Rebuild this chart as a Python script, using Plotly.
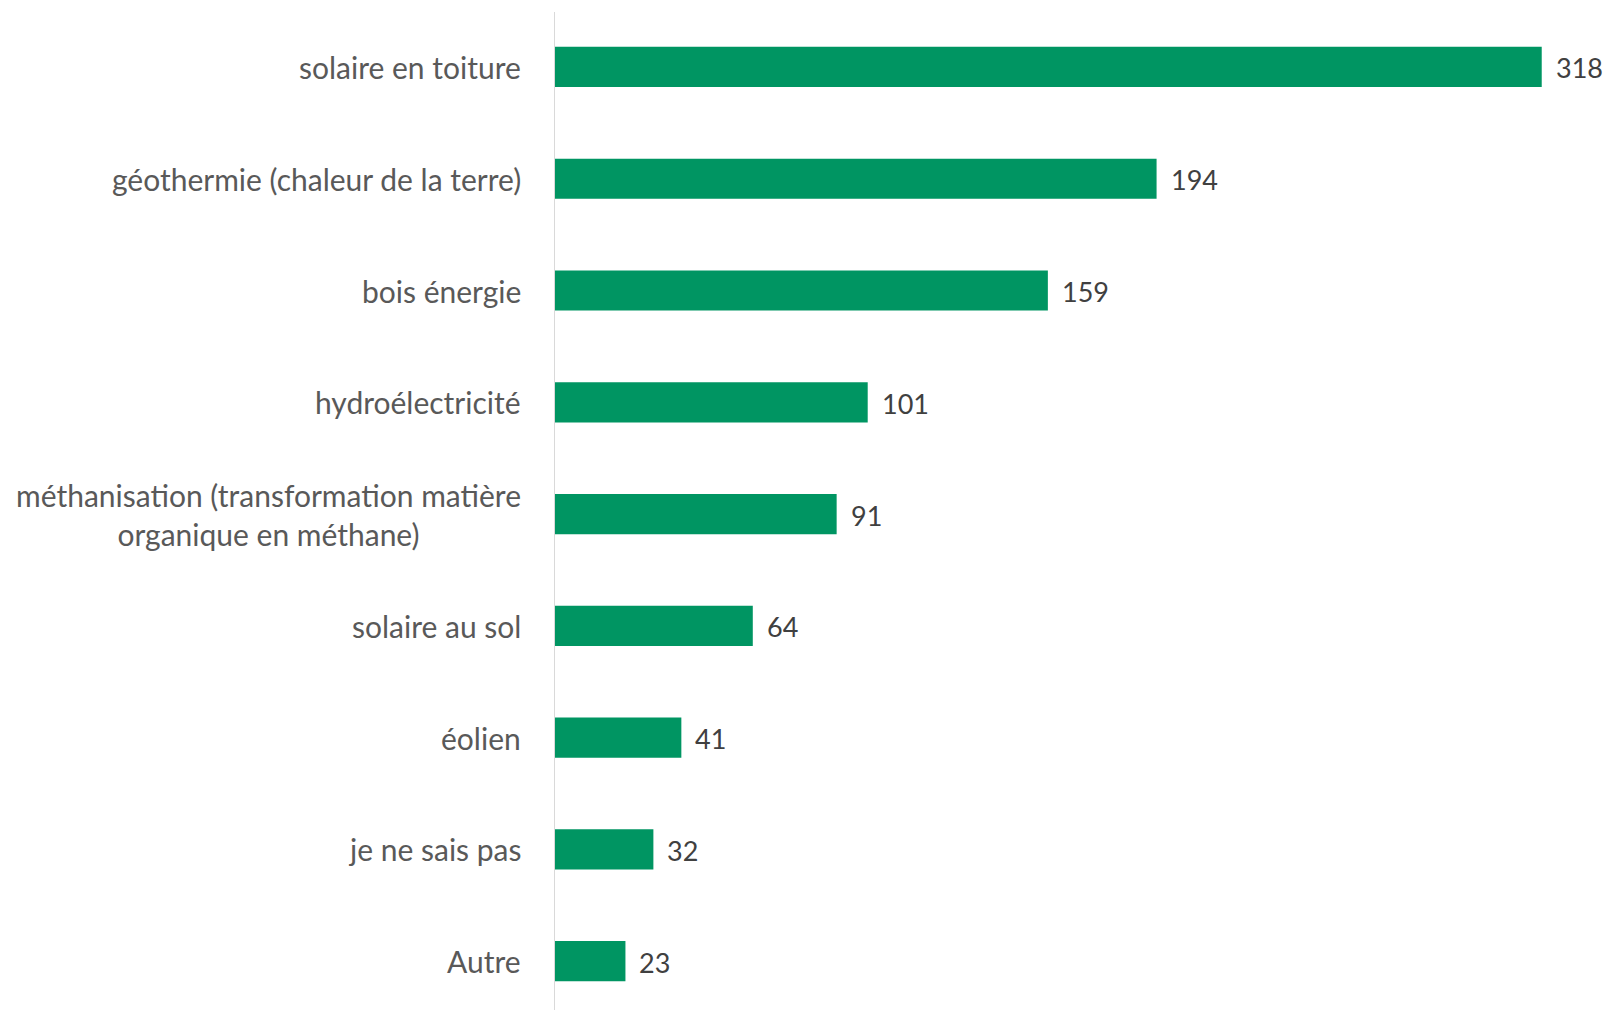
import plotly.graph_objects as go

categories = [
    "solaire en toiture",
    "géothermie (chaleur de la terre)",
    "bois énergie",
    "hydroélectricité",
    "méthanisation (transformation matière<br>organique en méthane)",
    "solaire au sol",
    "éolien",
    "je ne sais pas",
    "Autre",
]
values = [318, 194, 159, 101, 91, 64, 41, 32, 23]

BAR_COLOR = "#009562"
FONT = "Lato"

fig = go.Figure()
fig.add_trace(go.Bar(
    x=values,
    y=list(range(len(categories))),
    orientation="h",
    marker=dict(color=BAR_COLOR, line=dict(width=0)),
    width=0.36,
    hoverinfo="skip",
))

for i, (c, v) in enumerate(zip(categories, values)):
    fig.add_annotation(
        x=0, xref="paper", y=i, yref="y",
        text=c, showarrow=False,
        xanchor="right", yanchor="middle", align="center",
        xshift=-31,
        font=dict(family=FONT, size=30, color="#595959"),
    )
    fig.add_annotation(
        x=v, xref="x", y=i, yref="y",
        text=str(v), showarrow=False,
        xanchor="left", yanchor="middle",
        xshift=12, yshift=-1,
        font=dict(family=FONT, size=27, color="#404040"),
    )

fig.update_layout(
    width=1596, height=1002,
    margin=dict(l=546, r=25, t=4, b=0),
    plot_bgcolor="white", paper_bgcolor="white",
    showlegend=False,
    xaxis=dict(range=[0, 330], visible=False),
    yaxis=dict(range=[8.438, -0.492], showticklabels=False, showgrid=False,
               zeroline=False, showline=False, ticks=""),
)
fig.add_shape(type="line", xref="x", yref="paper", x0=0, x1=0, y0=0, y1=1,
              line=dict(color="#d9d9d9", width=2))

fig.write_html("out.html")
